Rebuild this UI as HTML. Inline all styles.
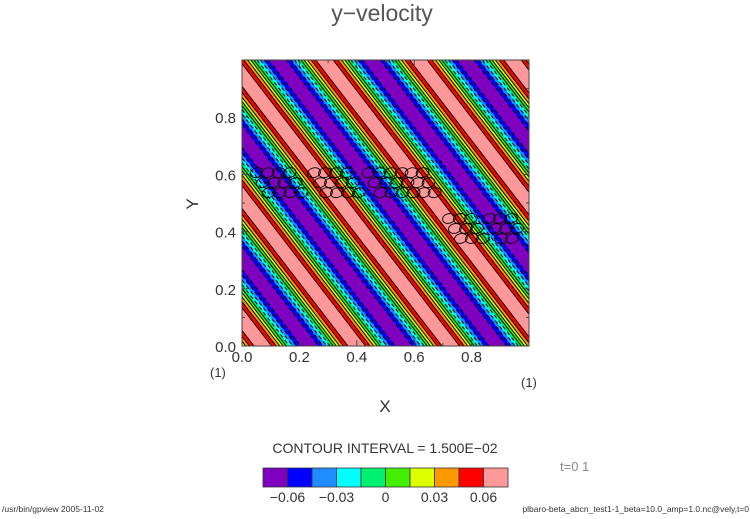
<!DOCTYPE html>
<html><head><meta charset="utf-8">
<style>
html,body{margin:0;padding:0;background:#fff;overflow:hidden;}
body{width:750px;height:519px;overflow:hidden;font-family:"Liberation Sans",sans-serif;}
svg{display:block;}
svg text{font-family:"Liberation Sans",sans-serif;}
</style></head>
<body>
<svg id="chart" width="750" height="519" viewBox="0 0 750 519" xmlns="http://www.w3.org/2000/svg">
<text x="382" y="21" font-size="23" fill="#555" text-anchor="middle">y−velocity</text>
<g id="plot"></g>
<g id="contours"></g>
<g id="vortices"></g>
<rect x="242" y="60" width="287" height="286" fill="none" stroke="#444" stroke-width="1"/>
<g id="axes"></g>
<text x="192" y="210" font-size="17" fill="#333" text-anchor="middle" transform="rotate(-90 192 204)">Y</text>
<text x="385" y="412" font-size="17" fill="#333" text-anchor="middle">X</text>
<text x="210" y="377" font-size="13" fill="#333">(1)</text>
<text x="521" y="387" font-size="13" fill="#333">(1)</text>
<text x="385" y="453" font-size="14" fill="#333" text-anchor="middle">CONTOUR INTERVAL = 1.500E−02</text>
<g id="colorbar"></g>
<text x="560" y="471" font-size="13" fill="#888">t=0 1</text>
<text x="2" y="512" font-size="8.5" fill="#333">/usr/bin/gpview   2005-11-02</text>
<text x="749" y="512" font-size="8.5" fill="#333" text-anchor="end">plbaro-beta_abcn_test1-1_beta=10.0_amp=1.0.nc@vely,t=0</text>
</svg>
<script>
const levels = [-0.06,-0.045,-0.03,-0.015,0,0.015,0.03,0.045,0.06];
const colors = ["#7f00bf","#0000ff","#1e8cff","#00ffff","#00f070","#44ee00","#ddff00","#ff9900","#ff0000","#ff9999"];
const cbarLabels = ["-0.06","-0.03","0","0.03","0.06"];
const cbarLabelLevels = [-0.06,-0.03,0,0.03,0.06];
const xTicks = [0,0.2,0.4,0.6,0.8];
const yTicks = [0,0.2,0.4,0.6,0.8];
const waveAmp = [0.072];
const waveLenX = [0.3275];
const waveLenY = [0.4266];
const wavePhase = [0.221];
const vortexClusters = [[0.03,0.62],[0.23,0.62],[0.42,0.62],[0.57,0.62],[0.70,0.46],[0.84,0.46]];
const vortexCols = [4,4,4,2,3,3];

const NS="http://www.w3.org/2000/svg";
const X0=242,X1=529,Y0=346,Y1=60;
const xs=v=>X0+v*(X1-X0), ys=v=>Y0-v*(Y0-Y1);
function mk(tag,attrs,parent){const e=document.createElementNS(NS,tag);for(const k in attrs)e.setAttribute(k,attrs[k]);parent.appendChild(e);return e;}
function yAt(P,x){return (P+wavePhase[0]-x/waveLenX[0])*waveLenY[0];}
function lineRange(P){return [[-1,yAt(P,-1)],[2,yAt(P,2)]];}
// Sutherland-Hodgman clip to unit square
function clipPoly(pts){
  const edges=[[p=>p[0]>=0,(a,b)=>{const t=(0-a[0])/(b[0]-a[0]);return [0,a[1]+t*(b[1]-a[1])];}],
               [p=>p[0]<=1,(a,b)=>{const t=(1-a[0])/(b[0]-a[0]);return [1,a[1]+t*(b[1]-a[1])];}],
               [p=>p[1]>=0,(a,b)=>{const t=(0-a[1])/(b[1]-a[1]);return [a[0]+t*(b[0]-a[0]),0];}],
               [p=>p[1]<=1,(a,b)=>{const t=(1-a[1])/(b[1]-a[1]);return [a[0]+t*(b[0]-a[0]),1];}]];
  let out=pts;
  for(const [inside,inter] of edges){
    const inp=out;out=[];
    for(let i=0;i<inp.length;i++){
      const cur=inp[i],prev=inp[(i+inp.length-1)%inp.length];
      if(inside(cur)){if(!inside(prev))out.push(inter(prev,cur));out.push(cur);}
      else if(inside(prev))out.push(inter(prev,cur));
    }
    if(!out.length)break;
  }
  return out;
}
function clipLine(a,b){
  let t0=0,t1=1;const dx=b[0]-a[0],dy=b[1]-a[1];
  const p=[-dx,dx,-dy,dy],q=[a[0],1-a[0],a[1],1-a[1]];
  for(let i=0;i<4;i++){
    if(p[i]===0){if(q[i]<0)return null;continue;}
    const r=q[i]/p[i];
    if(p[i]<0){if(r>t1)return null;if(r>t0)t0=r;}else{if(r<t0)return null;if(r<t1)t1=r;}
  }
  return [[a[0]+t0*dx,a[1]+t0*dy],[a[0]+t1*dx,a[1]+t1*dy]];
}
const plot=document.getElementById('plot');
const bg=mk('rect',{x:X0,y:Y1,width:X1-X0,height:Y0-Y1,fill:colors[0]},plot);


const A=waveAmp[0];
for(let i=0;i<levels.length;i++){
  const half=Math.acos(Math.max(-1,Math.min(1,levels[i]/A)))/(2*Math.PI);
  for(let n=-2;n<=7;n++){
    const a=lineRange(n-half), b=lineRange(n+half);
    const poly=clipPoly([a[0],a[1],b[1],b[0]]);
    if(poly.length<3)continue;
    const pts=poly.map(p=>xs(p[0]).toFixed(1)+','+ys(p[1]).toFixed(1)).join(' ');
    const pg=mk('polygon',{points:pts,fill:colors[i+1]},plot);
    
    
  }
}
const cg=document.getElementById('contours');
for(let i=0;i<levels.length;i++){
  const half=Math.acos(Math.max(-1,Math.min(1,levels[i]/A)))/(2*Math.PI);
  for(let n=-2;n<=7;n++){
    for(const P of [n-half,n+half]){
      const a=lineRange(P);
      const seg=clipLine(a[0],a[1]);
      if(!seg)continue;
      const ln=mk('line',{x1:xs(seg[0][0]),y1:ys(seg[0][1]),x2:xs(seg[1][0]),y2:ys(seg[1][1]),stroke:'#000','stroke-width':1},cg);
      if(levels[i]<0) ln.setAttribute('stroke-dasharray','4,3');
      
      
    }
  }
}
const vg=document.getElementById('vortices');
vortexClusters.forEach((c,ci)=>{
  for(let r=0;r<3;r++){
    for(let k=0;k<vortexCols[ci];k++){
      const cx=xs(c[0])+k*11+r*6+6, cy=ys(c[1])+r*10+4;
      if(cx>X1-7)continue;
      const e=mk('ellipse',{cx:cx,cy:cy,rx:6.5,ry:4.8,fill:'none',stroke:'#000','stroke-width':0.9,transform:`rotate(-15 ${cx} ${cy})`},vg);
      
      
    }
  }
});
const ax=document.getElementById('axes');
for(let v=0;v<=1.0001;v+=0.1){
  const major=Math.round(v*10)%2===0, L=major?6:3;
  mk('line',{x1:xs(v),y1:Y0,x2:xs(v),y2:Y0-L,stroke:'#444'},ax);
  mk('line',{x1:xs(v),y1:Y1,x2:xs(v),y2:Y1+L,stroke:'#444'},ax);
  mk('line',{x1:X0,y1:ys(v),x2:X0+L,y2:ys(v),stroke:'#444'},ax);
  mk('line',{x1:X1,y1:ys(v),x2:X1-L,y2:ys(v),stroke:'#444'},ax);
}
xTicks.forEach(v=>{
  const t=mk('text',{x:xs(v),y:362,'font-size':15,fill:'#333','text-anchor':'middle'},ax);
  t.textContent=v.toFixed(1);
  
  
});
yTicks.forEach(v=>{
  const t=mk('text',{x:236,y:ys(v)+6,'font-size':15,fill:'#333','text-anchor':'end'},ax);
  t.textContent=v.toFixed(1);
  
  
});
const cb=document.getElementById('colorbar');
const CB0=263,CBW=24.5,CBY=468,CBH=19;
colors.forEach((c,i)=>{
  const r=mk('rect',{x:CB0+i*CBW,y:CBY,width:CBW,height:CBH,fill:c,stroke:'#333','stroke-width':0.8},cb);
  
  
});
cbarLabels.forEach((lab,i)=>{
  const idx=levels.indexOf(cbarLabelLevels[i]);
  const t=mk('text',{x:CB0+(idx+1)*CBW,y:502,'font-size':14,fill:'#333','text-anchor':'middle'},cb);
  t.textContent=lab.replace('-','−');
  
  
});
</script>
</body></html>
